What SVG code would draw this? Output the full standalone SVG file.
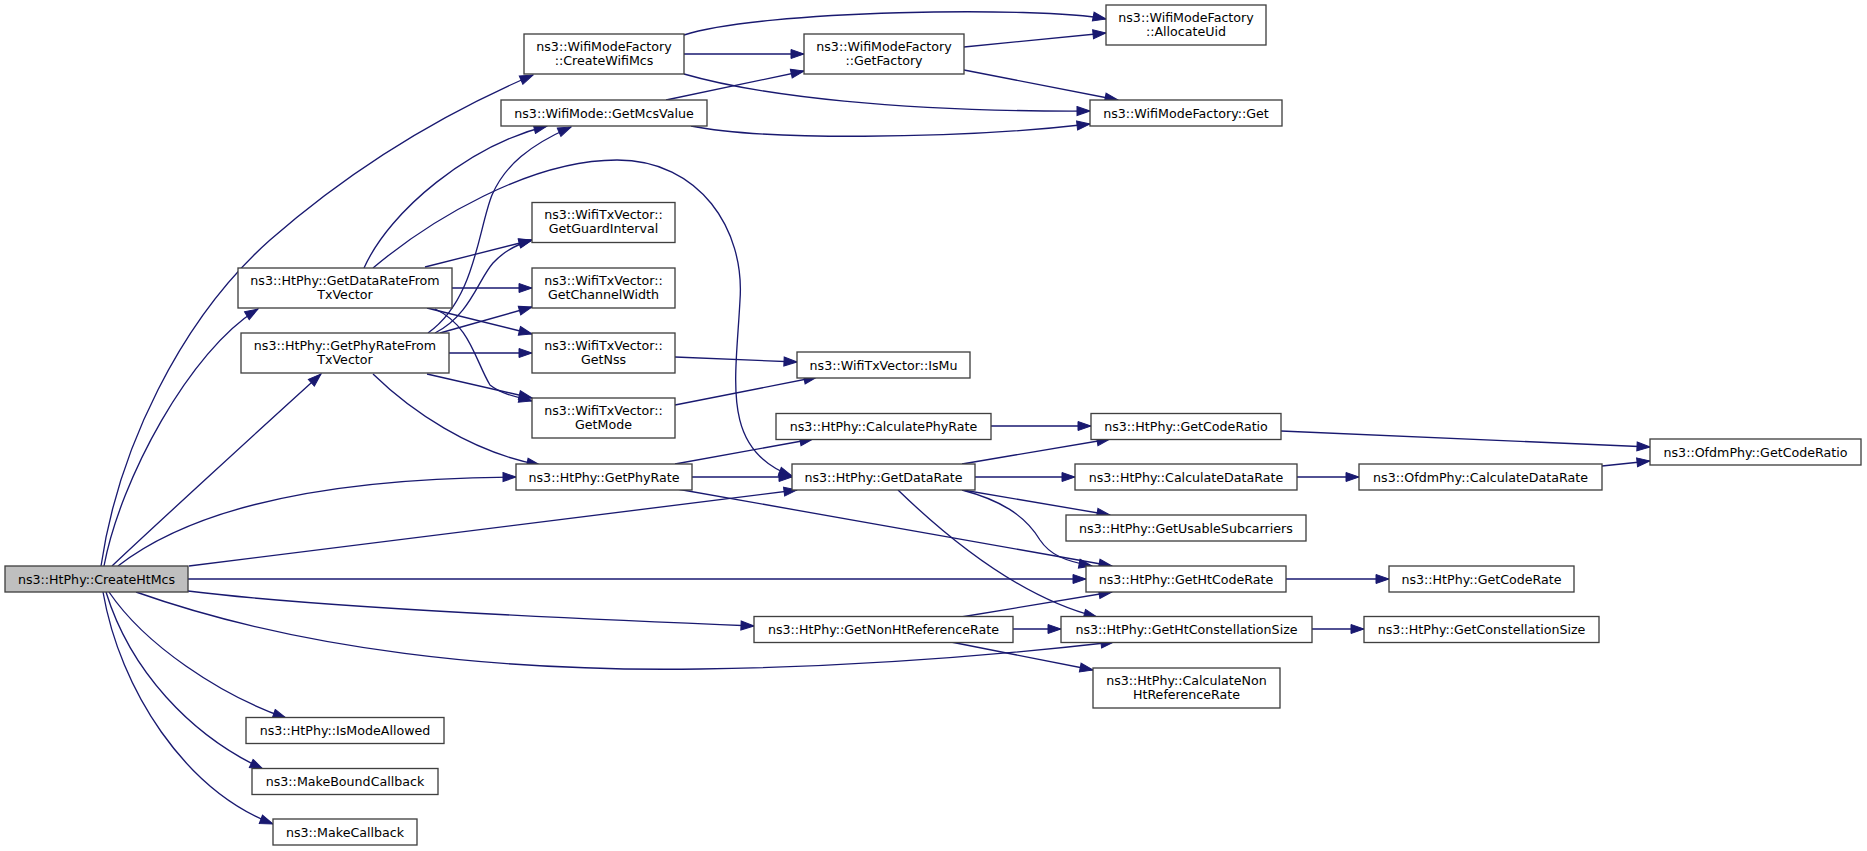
<svg xmlns="http://www.w3.org/2000/svg" width="1867" height="851" viewBox="0 0 1867 851">
<style>
.node rect{fill:#ffffff;stroke:#404040;stroke-width:1.33}
.root rect{fill:#bfbfbf;stroke:#404040;stroke-width:1.33}
text{font-family:"DejaVu Sans",sans-serif;font-size:12.65px;text-anchor:middle;fill:#000000}
.edges path{fill:none;stroke:#191970;stroke-width:1.33;marker-end:url(#arr)}
</style>
<defs>
<marker id="arr" markerUnits="userSpaceOnUse" markerWidth="15" markerHeight="11" viewBox="0 0 15 11" refX="14" refY="5.5" orient="auto">
<path d="M1,1 L14,5.5 L1,10 Z" fill="#191970" stroke="#191970" stroke-width="1"/>
</marker>
</defs>
<rect x="0" y="0" width="1867" height="851" fill="#ffffff"/>
<g class="edges" id="edges">
<path d="M101,566 C118,450 180,320 270,240 C350,170 440,115 533,75"/>
<path d="M104,566 C120,480 190,350 258,309"/>
<path d="M112,566 C150,530 270,420 321,374"/>
<path d="M118,566 C190,510 320,478 516,477"/>
<path d="M189,566 L797,490"/>
<path d="M188,579 L1086,579"/>
<path d="M188,591 C300,605 500,616 754,626"/>
<path d="M136,592 C300,650 500,672 700,669 C850,667 1000,655 1114,642"/>
<path d="M109,592 C145,645 220,695 286,718"/>
<path d="M106,592 C130,670 190,735 263,769"/>
<path d="M103,592 C120,690 185,790 273,824"/>
<path d="M684,35 C760,10 1040,6 1106,19"/>
<path d="M684,54 L804,54"/>
<path d="M684,74 C760,96 900,112 1090,111"/>
<path d="M964,47 L1106,33"/>
<path d="M964,70 L1118,100"/>
<path d="M666,100 L804,71"/>
<path d="M691,126 C760,140 950,140 1090,124"/>
<path d="M364,268 C390,210 470,145 547,126"/>
<path d="M373,268 C430,220 530,160 617,160 C700,160 745,230 740,300 C736,380 720,450 792,476"/>
<path d="M425,267 L532,240"/>
<path d="M452,288 L532,288"/>
<path d="M427,308 L532,334"/>
<path d="M435,309 C470,325 475,360 490,385 C500,393 512,396 532,401"/>
<path d="M428,333 C475,300 478,230 492,195 C505,165 530,145 571,127"/>
<path d="M435,333 C470,315 478,280 493,263 C505,250 518,244 532,240"/>
<path d="M440,333 L532,307"/>
<path d="M449,353 L532,353"/>
<path d="M427,374 L532,398"/>
<path d="M373,374 C410,410 470,452 540,465"/>
<path d="M675,357 L797,362"/>
<path d="M675,405 L817,377"/>
<path d="M675,464 L813,439"/>
<path d="M692,477 L792,477"/>
<path d="M677,489 L1112,566"/>
<path d="M991,426 L1091,426"/>
<path d="M962,464 L1110,439"/>
<path d="M975,477 L1075,477"/>
<path d="M963,490 L1110,515"/>
<path d="M962,490 C1000,500 1025,515 1040,540 C1050,555 1065,561 1092,566"/>
<path d="M898,490 C960,550 1030,600 1097,617"/>
<path d="M1297,477 L1359,477"/>
<path d="M1602,466 L1650,461"/>
<path d="M1281,431 L1650,447"/>
<path d="M1286,579 L1389,579"/>
<path d="M961,617 L1112,592"/>
<path d="M1013,629 L1061,629"/>
<path d="M951,642 L1093,670"/>
<path d="M1312,629 L1364,629"/>
</g>
<g class="root" id="node_CreateHtMcs"><rect x="5" y="566" width="183" height="26"/><text x="96.5" y="583.5">ns3::HtPhy::CreateHtMcs</text></g>
<g class="node" id="node_CreateWifiMcs"><rect x="524" y="34" width="160" height="40"/><text x="604" y="50.5">ns3::WifiModeFactory</text><text x="604" y="64.5">::CreateWifiMcs</text></g>
<g class="node" id="node_GetMcsValue"><rect x="501" y="100" width="206" height="26"/><text x="604" y="117.5">ns3::WifiMode::GetMcsValue</text></g>
<g class="node" id="node_GetGuardInterval"><rect x="532" y="202.5" width="143" height="40"/><text x="603.5" y="219">ns3::WifiTxVector::</text><text x="603.5" y="233">GetGuardInterval</text></g>
<g class="node" id="node_GetChannelWidth"><rect x="532" y="268" width="143" height="40"/><text x="603.5" y="284.5">ns3::WifiTxVector::</text><text x="603.5" y="298.5">GetChannelWidth</text></g>
<g class="node" id="node_GetDataRateFromTxVector"><rect x="238" y="268" width="214" height="40"/><text x="345" y="284.5">ns3::HtPhy::GetDataRateFrom</text><text x="345" y="298.5">TxVector</text></g>
<g class="node" id="node_GetPhyRateFromTxVector"><rect x="241" y="333" width="208" height="40"/><text x="345" y="349.5">ns3::HtPhy::GetPhyRateFrom</text><text x="345" y="363.5">TxVector</text></g>
<g class="node" id="node_GetNss"><rect x="532" y="333" width="143" height="40"/><text x="603.5" y="349.5">ns3::WifiTxVector::</text><text x="603.5" y="363.5">GetNss</text></g>
<g class="node" id="node_GetMode"><rect x="532" y="398" width="143" height="40"/><text x="603.5" y="414.5">ns3::WifiTxVector::</text><text x="603.5" y="428.5">GetMode</text></g>
<g class="node" id="node_GetPhyRate"><rect x="516" y="464" width="176" height="26"/><text x="604" y="481.5">ns3::HtPhy::GetPhyRate</text></g>
<g class="node" id="node_IsModeAllowed"><rect x="246" y="717.5" width="198" height="26"/><text x="345" y="735">ns3::HtPhy::IsModeAllowed</text></g>
<g class="node" id="node_MakeBoundCallback"><rect x="252" y="768.5" width="186" height="26"/><text x="345" y="786">ns3::MakeBoundCallback</text></g>
<g class="node" id="node_MakeCallback"><rect x="273" y="819" width="144" height="26"/><text x="345" y="836.5">ns3::MakeCallback</text></g>
<g class="node" id="node_GetFactory"><rect x="804" y="34" width="160" height="40"/><text x="884" y="50.5">ns3::WifiModeFactory</text><text x="884" y="64.5">::GetFactory</text></g>
<g class="node" id="node_AllocateUid"><rect x="1106" y="5" width="160" height="40"/><text x="1186" y="21.5">ns3::WifiModeFactory</text><text x="1186" y="35.5">::AllocateUid</text></g>
<g class="node" id="node_Get"><rect x="1090" y="100" width="192" height="26"/><text x="1186" y="117.5">ns3::WifiModeFactory::Get</text></g>
<g class="node" id="node_IsMu"><rect x="797" y="352" width="173" height="26"/><text x="883.5" y="369.5">ns3::WifiTxVector::IsMu</text></g>
<g class="node" id="node_CalculatePhyRate"><rect x="776" y="413.5" width="215" height="26"/><text x="883.5" y="431">ns3::HtPhy::CalculatePhyRate</text></g>
<g class="node" id="node_GetDataRate"><rect x="792" y="464" width="183" height="26"/><text x="883.5" y="481.5">ns3::HtPhy::GetDataRate</text></g>
<g class="node" id="node_GetCodeRatio"><rect x="1091" y="413.5" width="190" height="26"/><text x="1186" y="431">ns3::HtPhy::GetCodeRatio</text></g>
<g class="node" id="node_CalculateDataRate"><rect x="1075" y="464" width="222" height="26"/><text x="1186" y="481.5">ns3::HtPhy::CalculateDataRate</text></g>
<g class="node" id="node_GetUsableSubcarriers"><rect x="1066" y="515" width="240" height="26"/><text x="1186" y="532.5">ns3::HtPhy::GetUsableSubcarriers</text></g>
<g class="node" id="node_GetHtCodeRate"><rect x="1086" y="566" width="200" height="26"/><text x="1186" y="583.5">ns3::HtPhy::GetHtCodeRate</text></g>
<g class="node" id="node_GetNonHtReferenceRate"><rect x="754" y="616.5" width="259" height="26"/><text x="883.5" y="634">ns3::HtPhy::GetNonHtReferenceRate</text></g>
<g class="node" id="node_GetHtConstellationSize"><rect x="1061" y="616.5" width="251" height="26"/><text x="1186.5" y="634">ns3::HtPhy::GetHtConstellationSize</text></g>
<g class="node" id="node_CalculateNonHtReferenceRate"><rect x="1093" y="668" width="187" height="40"/><text x="1186.5" y="684.5">ns3::HtPhy::CalculateNon</text><text x="1186.5" y="698.5">HtReferenceRate</text></g>
<g class="node" id="node_OfdmCalculateDataRate"><rect x="1359" y="464" width="243" height="26"/><text x="1480.5" y="481.5">ns3::OfdmPhy::CalculateDataRate</text></g>
<g class="node" id="node_OfdmGetCodeRatio"><rect x="1650" y="439" width="211" height="26"/><text x="1755.5" y="456.5">ns3::OfdmPhy::GetCodeRatio</text></g>
<g class="node" id="node_GetCodeRate"><rect x="1389" y="566" width="185" height="26"/><text x="1481.5" y="583.5">ns3::HtPhy::GetCodeRate</text></g>
<g class="node" id="node_GetConstellationSize"><rect x="1364" y="616.5" width="235" height="26"/><text x="1481.5" y="634">ns3::HtPhy::GetConstellationSize</text></g>
</svg>
